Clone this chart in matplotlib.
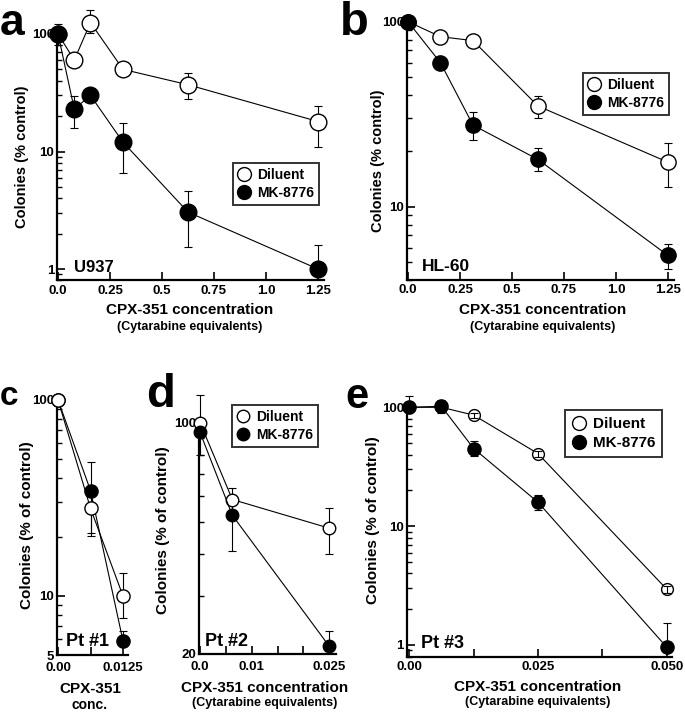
import numpy as np
import matplotlib.pyplot as plt
from matplotlib.lines import Line2D
from matplotlib.ticker import FixedLocator, FixedFormatter, LogLocator, NullFormatter

plt.rcParams['font.family'] = ['Liberation Sans Narrow', 'Liberation Sans', 'DejaVu Sans']
plt.rcParams['font.weight'] = 'bold'

# panel a - U937
a_x = [0, 0.078, 0.156, 0.3125, 0.625, 1.25]
a_dil = [100, 60, 125, 50, 37, 18]
a_dil_lo = [80, 60, 101, 50, 28, 11]
a_dil_hi = [122, 60, 160, 50, 47, 24.5]
a_mk = [100, 23, 30, 12, 3.05, 1.0]
a_mk_lo = [100, 16, 30, 6.6, 1.55, 1.0]
a_mk_hi = [100, 29.5, 30, 17.5, 4.6, 1.6]

# panel b - HL-60
b_x = [0, 0.156, 0.3125, 0.625, 1.25]
b_dil = [100, 83, 79, 35, 17.4]
b_dil_lo = [100, 83, 75, 30, 12.7]
b_dil_hi = [100, 83, 82, 39.5, 22]
b_mk = [100, 60, 27.6, 18, 5.45]
b_mk_lo = [100, 60, 23, 15.5, 4.6]
b_mk_hi = [100, 60, 32.6, 20.8, 6.3]

# panel c - Pt #1
c_x = [0, 0.00625, 0.0125]
c_dil = [100, 28, 10]
c_dil_lo = [100, 21, 7.7]
c_dil_hi = [100, 36, 13.1]
c_mk = [100, 34.5, 5.9]
c_mk_lo = [100, 20.3, 5.9]
c_mk_hi = [100, 48.5, 6.6]

# panel d - Pt #2
d_x = [0, 0.00625, 0.025]
d_dil = [100, 58.6, 48]
d_dil_lo = [100, 54, 40.2]
d_dil_hi = [100, 63.7, 55.2]
d_mk = [93.5, 52.5, 21.1]
d_mk_lo = [80, 41, 21.1]
d_mk_hi = [121, 58, 23.5]

# panel e - Pt #3
e_x = [0, 0.00625, 0.0125, 0.025, 0.05]
e_dil = [100, 100, 86, 40.8, 2.95]
e_dil_lo = [100, 93, 82, 38.5, 2.75]
e_dil_hi = [100, 108, 90, 43, 3.15]
e_mk = [100, 102, 45, 15.9, 0.96]
e_mk_lo = [100, 90, 39, 13.8, 0.96]
e_mk_hi = [125, 115, 52, 18.2, 1.53]

W, H = 685, 712
fig = plt.figure(figsize=(W / 100, H / 100), dpi=100)


def box(l, t, r, b):
    return [l / W, 1 - b / H, (r - l) / W, (b - t) / H]


def T(x, y, s, **kw):
    kw.setdefault('ha', 'center')
    kw.setdefault('va', 'center')
    fig.text(x / W, 1 - y / H, s, **kw)


def series(ax, x, y, lo, hi, fc, ms, bars_on_top=False):
    y = np.array(y, dtype=float)
    err = [y - np.array(lo), np.array(hi) - y]
    ax.plot(x, y, '-o', color='black', mfc=fc, mec='black', mew=1.0, ms=ms,
            lw=0.8, clip_on=False, zorder=3)
    ax.errorbar(x, y, yerr=err, fmt='none', ecolor='black', elinewidth=0.8,
                capsize=3, capthick=0.8, clip_on=False,
                zorder=4 if bars_on_top else 2.5)


def setup(ax, xlim, ylim, xticks, xlabels, yticks, ylabels, xpad=3):
    ax.set_yscale('log')
    ax.set_xlim(*xlim)
    ax.set_ylim(*ylim)
    for s in ('top', 'right'):
        ax.spines[s].set_visible(False)
    for s in ('left', 'bottom'):
        ax.spines[s].set_linewidth(1.6)
    ax.xaxis.set_major_locator(FixedLocator(xticks))
    ax.xaxis.set_major_formatter(FixedFormatter(xlabels))
    ax.yaxis.set_major_locator(FixedLocator(yticks))
    ax.yaxis.set_major_formatter(FixedFormatter(ylabels))
    ax.yaxis.set_minor_locator(LogLocator(subs=np.arange(2, 10)))
    ax.yaxis.set_minor_formatter(NullFormatter())
    ax.tick_params(which='major', direction='in', length=6, width=1.2,
                   labelsize=9.5)
    ax.tick_params(which='minor', direction='in', length=3.5, width=1.0)
    ax.tick_params(axis='x', pad=xpad)
    ax.tick_params(axis='y', pad=2)
    for lab in ax.get_xticklabels() + ax.get_yticklabels():
        lab.set_fontweight('bold')


def legend(ax, anchor, ms, fs, bpad=0.35, lspace=0.3):
    h = [Line2D([], [], ls='none', marker='o', ms=ms, mfc='white', mec='black'),
         Line2D([], [], ls='none', marker='o', ms=ms, mfc='black', mec='black')]
    lg = ax.legend(h, ['Diluent', 'MK-8776'], loc='upper left', bbox_to_anchor=anchor,
                   borderaxespad=0, frameon=True, fancybox=False, handlelength=0.9,
                   handletextpad=0.5, borderpad=bpad, labelspacing=lspace,
                   prop={'size': fs, 'weight': 'bold'})
    lg.get_frame().set_edgecolor('black')
    lg.get_frame().set_linewidth(1.4)


# a
ax = fig.add_axes(box(57, 34, 324.2, 280.4))
series(ax, a_x, a_dil, a_dil_lo, a_dil_hi, 'white', 12)
series(ax, a_x, a_mk, a_mk_lo, a_mk_hi, 'black', 12)
setup(ax, (-0.005, 1.28), (0.8, 100), [0, 0.25, 0.5, 0.75, 1.0, 1.25],
      ['0.0', '0.25', '0.5', '0.75', '1.0', '1.25'], [1, 10, 100], ['1', '10', '100'])
legend(ax, (0.659, 0.476), 10, 10)
ax.text(0.065, 0.035, 'U937', transform=ax.transAxes, fontsize=12, fontweight='bold')

# b
ax = fig.add_axes(box(407, 21.7, 674.2, 280.3))
series(ax, b_x, b_dil, b_dil_lo, b_dil_hi, 'white', 11)
series(ax, b_x, b_mk, b_mk_lo, b_mk_hi, 'black', 11)
setup(ax, (-0.005, 1.28), (4, 100), [0, 0.25, 0.5, 0.75, 1.0, 1.25],
      ['0.0', '0.25', '0.5', '0.75', '1.0', '1.25'], [10, 100], ['10', '100'])
legend(ax, (0.659, 0.802), 10, 10)
ax.text(0.055, 0.035, 'HL-60', transform=ax.transAxes, fontsize=12.5, fontweight='bold')

# c
ax = fig.add_axes(box(57, 400, 128.2, 655))
series(ax, c_x, c_mk, c_mk_lo, c_mk_hi, 'black', 9.5)
series(ax, c_x, c_dil, c_dil_lo, c_dil_hi, 'white', 9.5)
setup(ax, (-0.0002, 0.0135), (5, 100), [0, 0.00625, 0.0125],
      ['0.00', '', '0.0125'], [5, 10, 100], ['5', '10', '100'], xpad=5)
ax.text(0.13, 0.035, 'Pt #1', transform=ax.transAxes, fontsize=13, fontweight='bold')

# d
ax = fig.add_axes(box(199, 422.7, 335.5, 654))
series(ax, d_x, d_dil, d_dil_lo, d_dil_hi, 'white', 9)
series(ax, d_x, d_mk, d_mk_lo, d_mk_hi, 'black', 9)
setup(ax, (-0.0002, 0.0262), (20, 100), [0, 0.005, 0.01, 0.015, 0.02, 0.025],
      ['0.0', '', '0.01', '', '', '0.025'], [20, 100], ['20', '100'], xpad=5)
legend(ax, (0.242, 1.0765), 9, 10)
ax.text(0.045, 0.035, 'Pt #2', transform=ax.transAxes, fontsize=13, fontweight='bold')

# e
ax = fig.add_axes(box(406.7, 407.3, 671.8, 656.5))
series(ax, e_x, e_dil, e_dil_lo, e_dil_hi, 'white', 8.5, bars_on_top=True)
series(ax, e_x, e_mk, e_mk_lo, e_mk_hi, 'black', 9.5)
setup(ax, (-0.0005, 0.051), (0.8, 100), [0, 0.0125, 0.025, 0.0375, 0.05],
      ['0.00', '', '0.025', '', '0.050'], [1, 10, 100], ['1', '10', '100'])
legend(ax, (0.597, 0.989), 10, 11, bpad=0.45, lspace=0.35)
ax.text(0.055, 0.035, 'Pt #3', transform=ax.transAxes, fontsize=13, fontweight='bold')

# axis titles
T(22, 157, 'Colonies (% control)', rotation=90, fontsize=10.5, fontweight='bold')
T(378, 161, 'Colonies (% control)', rotation=90, fontsize=10.5, fontweight='bold')
T(27, 525, 'Colonies (% of control)', rotation=90, fontsize=11, fontweight='bold')
T(163, 530, 'Colonies (% of control)', rotation=90, fontsize=11, fontweight='bold')
T(373, 520, 'Colonies (% of control)', rotation=90, fontsize=11, fontweight='bold')

T(190, 310, 'CPX-351 concentration', fontsize=11, fontweight='bold')
T(190, 327, '(Cytarabine equivalents)', fontsize=9, fontweight='bold')
T(543, 310, 'CPX-351 concentration', fontsize=11, fontweight='bold')
T(543, 327, '(Cytarabine equivalents)', fontsize=9, fontweight='bold')
T(90, 689, 'CPX-351', fontsize=11, fontweight='bold')
T(90, 705, 'conc.', fontsize=10, fontweight='bold')
T(265, 688, 'CPX-351 concentration', fontsize=11, fontweight='bold')
T(265, 703, '(Cytarabine equivalents)', fontsize=9, fontweight='bold')
T(538, 687, 'CPX-351 concentration', fontsize=11, fontweight='bold')
T(538, 702, '(Cytarabine equivalents)', fontsize=9, fontweight='bold')

# panel letters
T(0, 35, 'a', ha='left', va='baseline', fontsize=32, fontweight='bold')
T(340, 35, 'b', ha='left', va='baseline', fontsize=34, fontweight='bold')
T(0, 405, 'c', ha='left', va='baseline', fontsize=24, fontweight='bold')
T(146, 407, 'd', ha='left', va='baseline', fontsize=34, fontweight='bold')
T(345, 408, 'e', ha='left', va='baseline', fontsize=30, fontweight='bold')

fig.savefig('out.png', dpi=100)
